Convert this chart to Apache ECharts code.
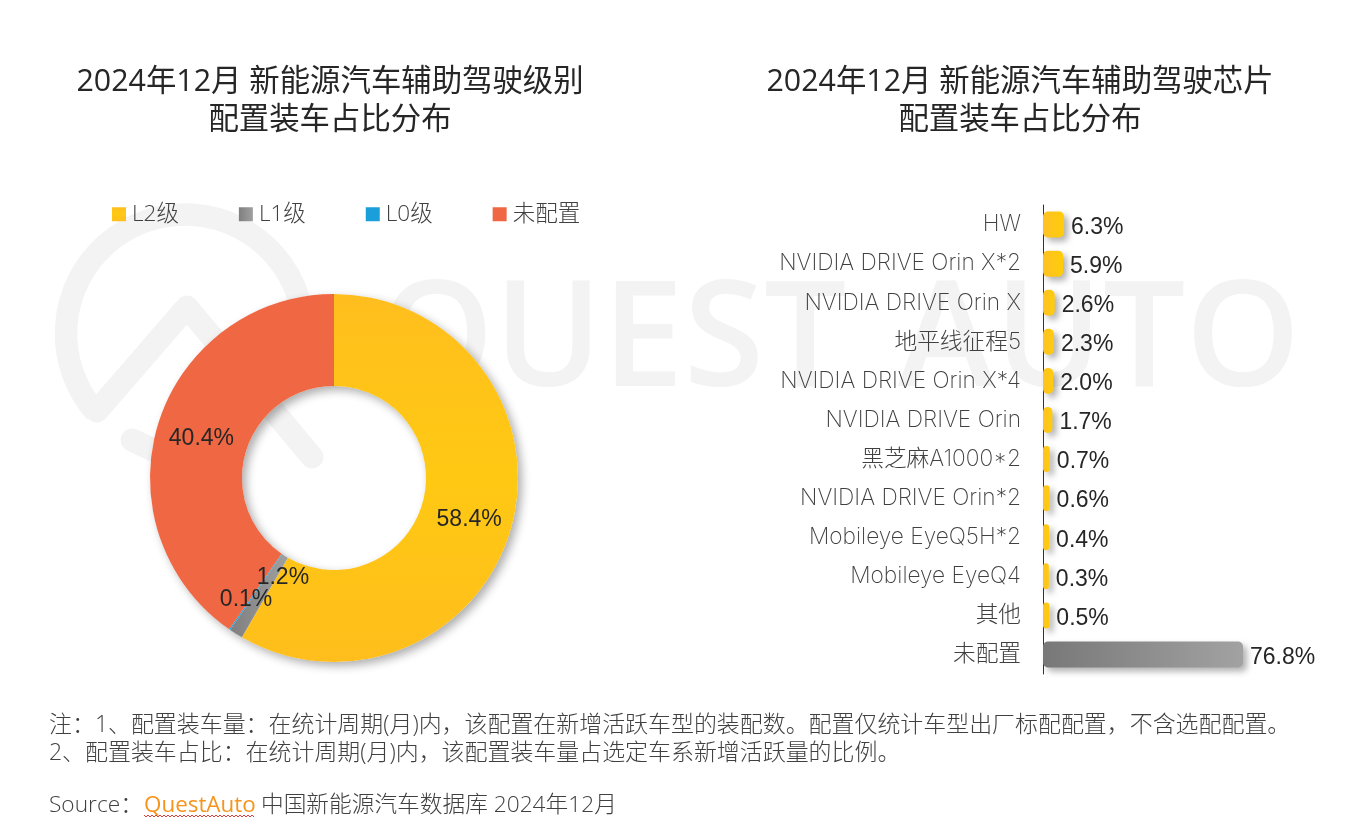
<!DOCTYPE html>
<html>
<head>
<meta charset="utf-8">
<title>2024年12月 新能源汽车辅助驾驶配置</title>
<script src="https://cdn.jsdelivr.net/npm/echarts@6/dist/echarts.min.js"></script>
<style>
html,body{margin:0;padding:0;background:#fff;}
#main{width:1352px;height:827px;}
</style>
</head>
<body>
<div id="main"></div>
<script>
var levelNames = ['L2级', 'L1级', 'L0级', '未配置'];
var levelValues = [58.4, 1.2, 0.1, 40.4];
var chipNames = ['HW', 'NVIDIA DRIVE Orin X*2', 'NVIDIA DRIVE Orin X', '地平线征程5', 'NVIDIA DRIVE Orin X*4', 'NVIDIA DRIVE Orin', '黑芝麻A1000*2', 'NVIDIA DRIVE Orin*2', 'Mobileye EyeQ5H*2', 'Mobileye EyeQ4', '其他', '未配置'];
var chipValues = [6.3, 5.9, 2.6, 2.3, 2.0, 1.7, 0.7, 0.6, 0.4, 0.3, 0.5, 76.8];
var leftTitle = '2024年12月 新能源汽车辅助驾驶级别\n配置装车占比分布';
var rightTitle = '2024年12月 新能源汽车辅助驾驶芯片\n配置装车占比分布';
var noteLine1 = '注：1、配置装车量：在统计周期(月)内，该配置在新增活跃车型的装配数。配置仅统计车型出厂标配配置，不含选配配置。';
var noteLine2 = '2、配置装车占比：在统计周期(月)内，该配置装车量占选定车系新增活跃量的比例。';

var FONT = '"Open Sans","Noto Sans CJK SC",sans-serif';
var AXIS_FONT = 'Inter,"Noto Sans CJK SC",sans-serif';
var LABEL_FONT = '"Liberation Sans",Arial,sans-serif';
var MARK = '#f3f3f3';

function grad(c1, c2) {
    return new echarts.graphic.LinearGradient(0, 0, 1, 0, [{offset: 0, color: c1}, {offset: 1, color: c2}]);
}
var levelColors = [
    new echarts.graphic.LinearGradient(0, 0, 0, 1, [{offset: 0, color: '#FFBE1E'}, {offset: 0.5, color: '#FFC913'}, {offset: 1, color: '#FFBE1C'}]),
    grad('#7f7f7f', '#a0a0a0'),
    '#1A9FDB',
    '#EF6743'
];
// 小扇区标签位置偏移
var labelOffsets = [[-1, 5], [24, -20], [-8, 5], [2, 3]];

var pieData = [];
for (var i = 0; i < levelNames.length; i++) {
    pieData.push({
        name: levelNames[i],
        value: levelValues[i],
        itemStyle: {color: levelColors[i]},
        label: {offset: labelOffsets[i]}
    });
}
var barData = [];
for (var j = 0; j < chipValues.length; j++) {
    var last = j == chipValues.length - 1;
    barData.push({
        value: chipValues[j],
        itemStyle: {color: last ? grad('#787878', '#a2a2a2') : grad('#FFC125', '#FFCC0A')}
    });
}
// 拼写检查红色波浪线
var wavePoints = [];
for (var x = 144; x <= 255; x += 2) {
    wavePoints.push([x, (x - 144) % 4 == 0 ? 815 : 817]);
}

var chart = echarts.init(document.getElementById('main'), null, {renderer: 'canvas'});
chart.setOption({
    animation: false,
    backgroundColor: '#fff',
    title: [
        {text: leftTitle, left: 325, top: 58, textAlign: 'center', textStyle: {fontFamily: FONT, fontSize: 30.4, fontWeight: 400, color: '#262626', lineHeight: 38}},
        {text: rightTitle, left: 1015, top: 58, textAlign: 'center', textStyle: {fontFamily: FONT, fontSize: 30.4, fontWeight: 400, color: '#262626', lineHeight: 38}}
    ],
    legend: {
        left: 107, top: 198, icon: 'rect', itemWidth: 14, itemHeight: 14, itemGap: 60,
        data: levelNames,
        textStyle: {fontFamily: FONT, fontSize: 22.5, fontWeight: 300, color: '#404040', padding: [0, 0, 0, 1]}
    },
    grid: {left: 1043, top: 205, width: 200, height: 469, containLabel: false},
    xAxis: {type: 'value', min: -2, max: 76.8, startValue: -2, show: false},
    yAxis: {
        type: 'category', inverse: true, data: chipNames,
        axisTick: {show: false}, splitLine: {show: false},
        axisLine: {onZero: false, lineStyle: {color: '#333', width: 1}},
        axisLabel: {fontFamily: AXIS_FONT, fontSize: 22.7, fontWeight: 200, color: '#404040', margin: 22, interval: 0}
    },
    series: [
        {
            // 整环阴影垫底，扇区之间不互相投影
            type: 'pie', center: [334, 478], radius: [92, 184], silent: true, z: 1,
            data: [{value: 100, itemStyle: {color: '#fff'}}],
            itemStyle: {shadowBlur: 10, shadowOffsetX: 4, shadowOffsetY: 4, shadowColor: 'rgba(0,0,0,0.32)'},
            label: {show: false}, labelLine: {show: false}
        },
        {
            type: 'pie', center: [334, 478], radius: [92, 184], startAngle: 90, clockwise: true,
            silent: true, data: pieData, avoidLabelOverlap: false, z: 2, minShowLabelAngle: 0,
            labelLayout: {hideOverlap: false},
            label: {show: true, position: 'inside', formatter: '{c}%', fontFamily: LABEL_FONT, fontSize: 23, color: '#262626'},
            labelLine: {show: false}
        },
        {
            type: 'bar', barWidth: 26, silent: true, data: barData,
            itemStyle: {borderRadius: 5, shadowBlur: 6, shadowOffsetX: 4, shadowOffsetY: 4, shadowColor: 'rgba(0,0,0,0.3)'},
            label: {show: true, position: 'right', distance: 7, offset: [0, 3], fontFamily: LABEL_FONT, fontSize: 23, color: '#262626',
                formatter: function (p) { return p.value.toFixed(1) + '%'; }}
        }
    ],
    graphic: [
        // 水印
        {type: 'arc', z: 0, silent: true, shape: {cx: 185, cy: 333.5, r: 119, startAngle: 2.42, endAngle: 6.4}, style: {fill: null, stroke: MARK, lineWidth: 22.5}},
        {type: 'polyline', z: 0, silent: true, shape: {points: [[97, 411], [187, 307], [312, 457]]}, style: {fill: null, stroke: MARK, lineWidth: 23, lineCap: 'round', lineJoin: 'round'}},
        {type: 'line', z: 0, silent: true, shape: {x1: 132, y1: 440, x2: 170, y2: 458}, style: {stroke: MARK, lineWidth: 23, lineCap: 'round'}},
        {type: 'text', z: 0, silent: true, left: 379, top: 271, style: {text: 'QUEST', fontFamily: '"Open Sans"', fontSize: 146, fontWeight: 600, fill: MARK}},
        {type: 'text', z: 0, silent: true, left: 898, top: 271, style: {text: 'AUTO', fontFamily: '"Open Sans"', fontSize: 146, fontWeight: 600, fill: MARK}},
        // 注释
        {type: 'text', z: 10, silent: true, left: 49, top: 714, style: {text: noteLine1, fontFamily: FONT, fontSize: 22.95, fontWeight: 300, fill: '#404040'}},
        {type: 'text', z: 10, silent: true, left: 49, top: 742, style: {text: noteLine2, fontFamily: FONT, fontSize: 22.95, fontWeight: 300, fill: '#404040'}},
        {type: 'text', z: 10, silent: true, left: 49, top: 794, style: {text: 'Source：', fontFamily: FONT, fontSize: 22.7, fontWeight: 300, fill: '#404040'}},
        {type: 'text', z: 10, silent: true, left: 144, top: 794, style: {text: 'QuestAuto', fontFamily: FONT, fontSize: 22.4, fontWeight: 400, fill: '#F7941D'}},
        {type: 'text', z: 10, silent: true, left: 261, top: 794, style: {text: '中国新能源汽车数据库 2024年12月', fontFamily: FONT, fontSize: 22.7, fontWeight: 300, fill: '#404040'}},
        {type: 'polyline', z: 10, silent: true, shape: {points: wavePoints}, style: {fill: null, stroke: '#e0403a', lineWidth: 1}}
    ]
});
</script>
</body>
</html>
